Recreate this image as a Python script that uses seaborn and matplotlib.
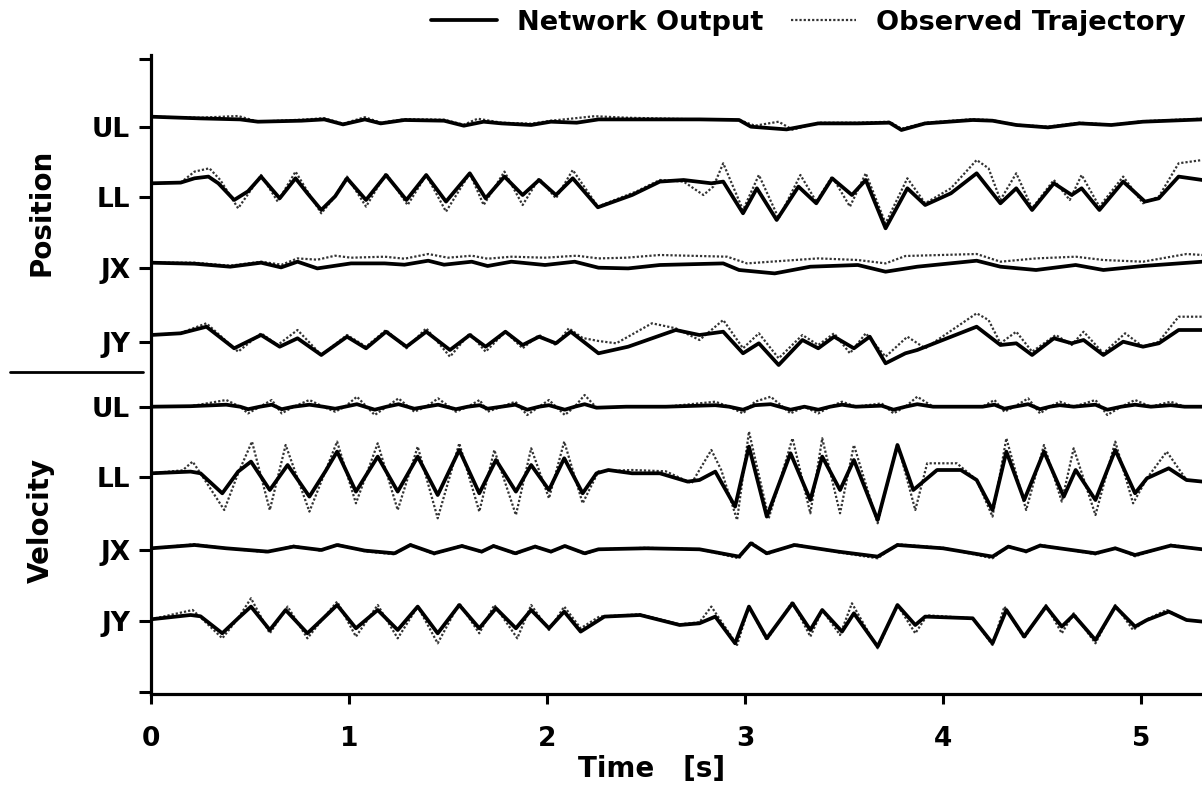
import matplotlib
matplotlib.use("Agg")
import matplotlib.pyplot as plt
import seaborn as sns
import pandas as pd
from matplotlib.lines import Line2D

# ---------------- data (time [s], deflection) ----------------
UL_pos_net = [(0,0),(0.25,-1.7),(0.45,-2.7),(0.54,-5),(0.76,-4),(0.875,-2.7),(0.97,-7.7),(1.08,-2.7),(1.16,-6.7),
              (1.28,-3.3),(1.48,-4),(1.58,-9),(1.68,-5),(1.77,-6.7),(1.92,-8.3),(2.02,-5),(2.15,-6),(2.26,-2.7),
              (2.37,-2.7),(2.77,-2.7),(2.97,-3.3),(3.03,-10),(3.21,-12.7),(3.37,-6.7),(3.57,-6.7),(3.73,-6),
              (3.79,-13.3),(3.91,-6.7),(4.15,-3.3),(4.25,-4),(4.37,-8.3),(4.53,-10.7),(4.69,-6.7),(4.85,-8.3),
              (5.01,-5),(5.31,-2.7)]
UL_pos_obs = [(0,0),(0.25,-1),(0.44,0.7),(0.54,-5),(0.76,-3),(0.875,-1.5),(0.97,-7),(1.08,-0.5),(1.16,-6),
              (1.28,-2.5),(1.48,-3),(1.58,-8),(1.65,-2),(1.77,-6),(1.92,-7),(2.02,-4),(2.12,-2),(2.24,0.5),
              (2.4,-1),(2.77,-2.7),(2.97,-3.3),(3.05,-9),(3.17,-5),(3.24,-13),(3.37,-6),(3.57,-6),(3.73,-5),
              (3.79,-12),(3.91,-6),(4.15,-2.5),(4.25,-3.5),(4.37,-8),(4.53,-10),(4.69,-6),(4.85,-8),(5.01,-4.5),(5.31,-2)]

LL_pos_net = [(0,0),(0.15,0.7),(0.22,5),(0.29,6.7),(0.34,0),(0.42,-16.7),(0.49,-8),(0.556,6.7),(0.65,-15),(0.73,5),
              (0.79,-10),(0.86,-26.7),(0.93,-13),(0.99,5),(1.086,-16.7),(1.187,8.3),(1.29,-16.7),(1.39,8.3),
              (1.49,-18.3),(1.61,10),(1.69,-15),(1.785,6.7),(1.877,-11.7),(1.96,3.3),(2.045,-11.7),(2.13,5),
              (2.257,-24),(2.43,-11.7),(2.57,1.7),(2.69,3.3),(2.83,0),(2.89,1.7),(2.99,-30),(3.06,-5),(3.16,-36.7),
              (3.27,-3.3),(3.36,-20),(3.44,5),(3.54,-11.7),(3.61,3.3),(3.71,-45),(3.82,-5),(3.91,-21.7),(4.04,-10),
              (4.17,10),(4.29,-20),(4.37,-5),(4.45,-26.7),(4.56,0),(4.65,-11.7),(4.70,-5),(4.79,-26.7),(4.91,1.7),
              (5.02,-18.3),(5.09,-15),(5.19,6.7),(5.31,3.3)]
LL_pos_obs = [(0,0),(0.15,0.7),(0.22,11.7),(0.295,15),(0.35,3.3),(0.44,-25),(0.50,-8),(0.556,8.3),(0.64,-18.3),
              (0.73,11.7),(0.79,-8),(0.86,-30),(0.93,-13),(0.99,6.7),(1.086,-23.3),(1.187,10),(1.296,-21.7),
              (1.39,8.3),(1.49,-28.3),(1.61,10),(1.68,-21.7),(1.785,11.7),(1.877,-21.7),(1.96,5),(2.045,-15),
              (2.13,13.3),(2.257,-23.3),(2.45,-8.3),(2.57,3.3),(2.69,1.7),(2.79,-11.7),(2.84,-3.3),(2.89,20),
              (2.99,-26.7),(3.07,8.3),(3.17,-35),(3.28,8.3),(3.36,-18.3),(3.44,6.7),(3.53,-23.3),(3.61,10),
              (3.71,-40),(3.82,5),(3.91,-20),(4.04,-5),(4.17,23.3),(4.23,15),(4.29,-16.7),(4.37,10),(4.45,-25),
              (4.56,3.3),(4.64,-16.7),(4.70,8.3),(4.79,-23.3),(4.91,6.7),(5.01,-20),(5.09,-13.3),(5.19,20),(5.31,23.3)]

JX_pos_net = [(0,0),(0.22,-1),(0.40,-4),(0.556,0),(0.657,-4.7),(0.74,1),(0.84,-5.7),(1.01,-0.7),(1.18,-0.7),
              (1.28,-2),(1.40,2),(1.48,-2),(1.62,1),(1.70,-3.3),(1.82,1),(1.99,-2.3),(2.14,1),(2.26,-5),(2.41,-5.7),
              (2.57,-2.3),(2.89,-0.7),(2.97,-7.3),(3.15,-10.7),(3.33,-4),(3.57,-2.3),(3.71,-9),(3.87,-4),(4.17,2),
              (4.29,-4),(4.47,-7.3),(4.67,-2.3),(4.81,-7.3),(5.01,-3.3),(5.31,1)]
JX_pos_obs = [(0,0),(0.22,0),(0.40,-3),(0.556,1),(0.66,-2),(0.74,4.3),(0.84,3),(0.93,7),(1.01,5),(1.18,6),
              (1.28,4),(1.40,8.7),(1.50,5),(1.62,7),(1.70,4),(1.82,6),(1.99,5),(2.15,7),(2.26,4.3),(2.40,5),
              (2.57,7.7),(2.91,6),(3.01,-0.7),(3.13,1),(3.37,4.3),(3.57,2.7),(3.71,-0.7),(3.81,6.7),(4.17,8.7),
              (4.29,1),(4.47,4.3),(4.67,6),(4.81,2.7),(5.01,1),(5.23,8.7),(5.31,7.7)]

JY_pos_net = [(0,0),(0.15,1.7),(0.28,8.3),(0.42,-13.3),(0.556,0),(0.65,-11.7),(0.74,-3.3),(0.86,-20),(0.99,-1.7),
              (1.086,-13.3),(1.187,3.3),(1.29,-11.7),(1.39,3.3),(1.51,-15),(1.61,0),(1.69,-11.7),(1.79,3.3),
              (1.877,-10),(1.96,-1.7),(2.045,-8.3),(2.12,3.3),(2.26,-18.3),(2.41,-11.7),(2.65,5),(2.77,0),
              (2.89,3.3),(2.99,-18.3),(3.07,-8.3),(3.17,-30),(3.29,-5),(3.37,-13.3),(3.45,-1.7),(3.55,-13.3),
              (3.63,-1.7),(3.71,-28.3),(3.81,-18.3),(3.87,-15),(4.17,8.3),(4.29,-10),(4.37,-8.3),(4.45,-20),
              (4.56,-3.3),(4.65,-8.3),(4.71,-5),(4.81,-20),(4.91,-6.7),(5.01,-11.7),(5.09,-8.3),(5.19,5),(5.31,5)]
JY_pos_obs = [(0,0),(0.15,2),(0.28,11.7),(0.44,-16.7),(0.556,1.7),(0.64,-10),(0.74,5),(0.86,-20),(0.99,0),
              (1.086,-11.7),(1.187,5),(1.29,-13.3),(1.39,6.7),(1.51,-21.7),(1.61,1.7),(1.69,-16.7),(1.79,3.3),
              (1.877,-13.3),(1.96,0),(2.045,-10),(2.11,6.7),(2.18,-3),(2.26,-6),(2.35,-8.3),(2.53,11.7),(2.65,6.7),
              (2.77,-5),(2.89,15),(2.99,-13.3),(3.07,1.7),(3.17,-23.3),(3.29,0),(3.37,-10),(3.45,1.7),(3.53,-18.3),
              (3.61,1.7),(3.71,-21.7),(3.82,-1.7),(3.91,-13.3),(4.17,21.7),(4.23,15),(4.29,-8.3),(4.37,3.3),
              (4.45,-16.7),(4.57,0),(4.65,-10),(4.71,3.3),(4.81,-18.3),(4.92,1.7),(5.01,-11.7),(5.09,-6.7),
              (5.19,18.3),(5.31,18.3)]

UL_vel_net = [(0,0),(0.2,0.5),(0.38,2),(0.45,0),(0.49,-2.5),(0.55,0),(0.61,2),(0.66,-2.5),(0.72,0),(0.80,2),
              (0.87,0),(0.93,-2),(0.98,0),(1.04,2.5),(1.13,-3),(1.19,0),(1.25,2.5),(1.33,-2),(1.39,0),(1.45,2),
              (1.54,-2.5),(1.6,0),(1.66,1.5),(1.70,-2),(1.77,0),(1.84,2),(1.90,-3),(1.96,0),(2.01,1.5),(2.09,-3),
              (2.14,0),(2.19,2.5),(2.25,-1),(2.4,0),(2.6,0),(2.85,1.5),(2.92,0),(2.99,-3),(3.05,1.5),(3.13,2.5),
              (3.23,-3),(3.30,0),(3.37,-3),(3.43,0),(3.49,2),(3.56,0),(3.69,1),(3.75,-3),(3.81,0),(3.87,2.5),
              (3.95,0),(4.2,0),(4.26,2),(4.31,-2),(4.36,0),(4.43,2.5),(4.49,-2.5),(4.54,0),(4.59,1.5),(4.66,0),
              (4.77,2),(4.83,-3),(4.90,0),(4.97,2),(5.05,0),(5.15,1.5),(5.22,0),(5.31,0)]
UL_vel_obs = [(0,0),(0.2,0.5),(0.38,6.7),(0.45,0),(0.49,-6.7),(0.55,0),(0.61,6.7),(0.66,-6.7),(0.72,0),(0.80,6.7),
              (0.87,0),(0.93,-5),(0.98,0),(1.04,10),(1.13,-8.3),(1.19,0),(1.25,8.3),(1.33,-5),(1.39,0),(1.45,8.3),
              (1.54,-5),(1.6,0),(1.66,6.7),(1.70,-5),(1.77,0),(1.84,5),(1.90,-8.3),(1.96,0),(2.01,6.7),(2.09,-8.3),
              (2.14,0),(2.19,11.7),(2.25,-1),(2.4,0),(2.6,0),(2.85,5),(2.92,0),(2.99,-6.7),(3.05,5),(3.13,10),
              (3.23,-6.7),(3.30,0),(3.37,-6.7),(3.43,0),(3.49,5),(3.56,0),(3.69,3.3),(3.75,-6.7),(3.81,0),(3.87,10),
              (3.95,0),(4.2,0),(4.26,6.7),(4.31,-5),(4.36,0),(4.43,8.3),(4.49,-6.7),(4.54,0),(4.59,5),(4.66,0),
              (4.77,6.7),(4.83,-8.3),(4.90,0),(4.97,6.7),(5.05,0),(5.15,5),(5.22,0),(5.31,0)]

LL_vel_net = [(0,0),(0.20,1.7),(0.25,0),(0.36,-20),(0.44,1.7),(0.505,11.7),(0.60,-16.7),(0.69,8.3),(0.80,-23.3),
              (0.88,1.7),(0.94,21.7),(1.035,-18.3),(1.145,16.7),(1.246,-18.3),(1.347,16.7),(1.448,-21.7),
              (1.557,23.3),(1.658,-20),(1.742,13.3),(1.843,-18.3),(1.92,8.3),(2.01,-16.7),(2.087,15),(2.18,-20),
              (2.25,0),(2.31,3.3),(2.43,0),(2.57,0),(2.71,-8.3),(2.77,-6.7),(2.85,1.7),(2.95,-33.3),(3.02,26.7),
              (3.11,-43.3),(3.23,20),(3.33,-26.7),(3.39,16.7),(3.48,-16.7),(3.55,13.3),(3.67,-46.7),(3.77,28.3),
              (3.85,-16.7),(3.91,-6.7),(3.97,3.3),(4.09,3.3),(4.17,-6.7),(4.25,-36.7),(4.32,21.7),(4.41,-26.7),
              (4.51,21.7),(4.61,-23.3),(4.67,3.3),(4.77,-26.7),(4.87,23.3),(4.97,-20),(5.03,-5),(5.14,5),
              (5.23,-6.7),(5.31,-8.3)]
LL_vel_obs = [(0,0),(0.16,3),(0.21,11.7),(0.25,0),(0.37,-36.7),(0.44,0),(0.51,31.7),(0.60,-36.7),(0.68,28.3),
              (0.80,-38.3),(0.88,1.7),(0.94,31.7),(1.035,-30),(1.145,30),(1.246,-36.7),(1.347,26.7),(1.448,-45),
              (1.557,30),(1.658,-38.3),(1.734,23.3),(1.843,-41.7),(1.92,25),(2.01,-25),(2.087,31.7),(2.18,-30),
              (2.26,2),(2.43,3.3),(2.60,2),(2.73,-10),(2.83,23.3),(2.88,3.3),(2.96,-46.7),(3.02,41.7),(3.12,-45),
              (3.24,35),(3.33,-40),(3.39,35),(3.48,-40),(3.55,28.3),(3.67,-50),(3.77,30),(3.86,-36.7),(3.92,10),
              (4.07,10),(4.17,-6.7),(4.25,-43.3),(4.32,35),(4.42,-36.7),(4.51,28.3),(4.60,-28.3),(4.66,25),
              (4.77,-41.7),(4.87,31.7),(4.96,-30),(5.03,-5),(5.13,21.7),(5.23,-6.7),(5.31,-8.3)]

JX_vel_net = [(0,0),(0.22,3.3),(0.38,0),(0.59,-3.3),(0.72,1.7),(0.86,-1.7),(0.94,3.3),(1.08,-2.3),(1.23,-5),
              (1.31,3.3),(1.43,-5),(1.57,2.3),(1.67,-3.3),(1.73,2.3),(1.84,-5),(1.94,1.7),(2.02,-3.3),(2.09,2.3),
              (2.19,-5),(2.26,-1),(2.50,0),(2.77,-1),(2.97,-8.3),(3.03,5),(3.11,-5),(3.25,3.3),(3.47,-3.3),
              (3.67,-8.3),(3.77,3.3),(4.0,0),(4.25,-8.3),(4.33,1.7),(4.42,-3),(4.49,2.7),(4.77,-5),(4.87,0),
              (4.97,-6.7),(5.15,2.7),(5.31,-1)]
JX_vel_obs = [(0,0),(0.22,4),(0.38,0),(0.59,-4),(0.72,2.5),(0.86,-2.5),(0.94,4),(1.08,-3),(1.23,-6),
              (1.31,4),(1.43,-6),(1.57,3),(1.67,-4),(1.73,3),(1.84,-6),(1.94,2.5),(2.02,-4),(2.09,3),
              (2.19,-6),(2.26,-1),(2.50,0.5),(2.77,-1),(2.97,-10),(3.03,6.5),(3.11,-6),(3.25,4),(3.47,-4),
              (3.67,-10),(3.77,4),(4.0,0.5),(4.25,-10),(4.33,2.5),(4.42,-4),(4.49,3.5),(4.77,-6),(4.87,0.5),
              (4.97,-8),(5.15,3.5),(5.31,-1)]

JY_vel_net = [(0,0),(0.20,4.3),(0.25,3),(0.36,-14),(0.44,1),(0.505,12.7),(0.60,-10.7),(0.68,9.3),(0.79,-14),
              (0.87,1),(0.94,14.3),(1.035,-9),(1.145,9.3),(1.246,-10.7),(1.347,12.7),(1.448,-14),(1.557,14.3),
              (1.658,-9),(1.742,11),(1.843,-9),(1.92,9.3),(2.01,-9),(2.087,7.7),(2.17,-12.3),(2.29,2.7),
              (2.47,4.3),(2.67,-5.7),(2.77,-4),(2.85,2.7),(2.95,-24),(3.02,12.7),(3.11,-19),(3.24,16),(3.33,-10.7),
              (3.39,9.3),(3.49,-12.3),(3.55,6),(3.67,-27.3),(3.77,14.3),(3.86,-5.7),(3.91,2.7),(4.15,1),
              (4.25,-24),(4.32,9.3),(4.41,-17.3),(4.52,12.7),(4.60,-7.3),(4.66,4.3),(4.77,-20.7),(4.87,12.7),
              (4.97,-7.3),(5.03,-0.7),(5.14,7.7),(5.23,-0.7),(5.31,-2.3)]
JY_vel_obs = [(0,0),(0.21,9.3),(0.25,2),(0.36,-19),(0.44,1),(0.505,21),(0.60,-14),(0.69,12.7),(0.79,-19),
              (0.87,1),(0.94,17.7),(1.035,-17.3),(1.145,14.3),(1.246,-19),(1.347,12.7),(1.448,-24),(1.557,16),
              (1.658,-14),(1.734,14.3),(1.85,-19),(1.92,14.3),(2.01,-10.7),(2.087,12.7),(2.17,-9),(2.264,2.7),
              (2.47,5),(2.67,-5),(2.77,-3),(2.83,12.7),(2.96,-25.7),(3.02,12.7),(3.11,-20.7),(3.24,17.7),
              (3.33,-17.3),(3.39,9.3),(3.48,-15.7),(3.54,16),(3.67,-29),(3.77,14.3),(3.86,-14),(3.92,4),(4.15,1),
              (4.25,-25.7),(4.31,12.7),(4.41,-19),(4.52,14.3),(4.60,-14),(4.66,6),(4.77,-24),(4.87,14.3),
              (4.96,-10.7),(5.03,0),(5.13,9.3),(5.23,-0.7),(5.31,-2.3)]

channel_labels = ["UL", "LL", "JX", "JY", "UL", "LL", "JX", "JY"]
x_ticks = [0, 1, 2, 3, 4, 5]
legend_labels = ["Network Output", "Observed Trajectory"]

# ---------------- layout (vertical offsets of each trace) ----------------
trace_offsets = [577.3, 510.7, 431.3, 359.0, 287.3, 220.7, 145.7, 74.7]
tick_positions = [635, 567, 497, 426, 352, 287, 217, 144, 73, 2]
pairs = [(UL_pos_net, UL_pos_obs), (LL_pos_net, LL_pos_obs), (JX_pos_net, JX_pos_obs), (JY_pos_net, JY_pos_obs),
         (UL_vel_net, UL_vel_obs), (LL_vel_net, LL_vel_obs), (JX_vel_net, JX_vel_obs), (JY_vel_net, JY_vel_obs)]

sns.set_style("ticks")
plt.rcParams["font.family"] = ["DejaVu Sans"]
plt.rcParams["font.weight"] = "bold"
plt.rcParams["text.color"] = "black"
plt.rcParams["axes.labelcolor"] = "black"
plt.rcParams["xtick.color"] = "black"
plt.rcParams["ytick.color"] = "black"

W, H = 1202, 788
fig = plt.figure(figsize=(W / 100, H / 100), dpi=100)
ax = fig.add_axes([151 / W, 1 - 694 / H, 1 - 151 / W, (694 - 55) / H])

obs_style = (0, (1, 0.9))
for (net, obs), off in zip(pairs, trace_offsets):
    dfo = pd.DataFrame(obs, columns=["t", "v"])
    dfo["y"] = dfo["v"] + off
    sns.lineplot(data=dfo, x="t", y="y", estimator=None, sort=False, ax=ax, color="#333333",
                 linewidth=1.6, linestyle=obs_style, legend=False, zorder=2)
    dfn = pd.DataFrame(net, columns=["t", "v"])
    dfn["y"] = dfn["v"] + off
    sns.lineplot(data=dfn, x="t", y="y", estimator=None, sort=False, ax=ax, color="black",
                 linewidth=2.7, legend=False, zorder=3, solid_joinstyle="round")

ax.set_xlim(0, (W - 151) / 198)
ax.set_ylim(0, 639)
ax.set_xticks(x_ticks)
ax.set_xticklabels([str(v) for v in x_ticks], fontsize=19, fontweight="bold")
ax.set_yticks(tick_positions)
ax.set_yticklabels([""] + channel_labels + [""], fontsize=19, fontweight="bold")
ax.tick_params(axis="y", length=9, width=2.2, pad=6, color="black", labelcolor="black")
ax.tick_params(axis="x", length=7, width=2.2, pad=16, color="black", labelcolor="black")
for s in ["top", "right"]:
    ax.spines[s].set_visible(False)
for s in ["left", "bottom"]:
    ax.spines[s].set_linewidth(2.3)
    ax.spines[s].set_color("black")

ax.set_xlabel("Time   [s]", fontsize=20, fontweight="bold", color="black")
ax.xaxis.set_label_coords((652 - 151) / (W - 151), -(755 - 694) / 639)
ax.set_ylabel("")
ax.xaxis.label.set_va("top")

fig.text(41 / W, 1 - 212 / H, "Position", rotation=90, ha="center", va="center", fontsize=20,
         fontweight="bold", color="black")
fig.text(41 / W, 1 - 520 / H, "Velocity", rotation=90, ha="center", va="center", fontsize=20,
         fontweight="bold", color="black")

fig.add_artist(Line2D([10 / W, 143 / W], [1 - 372 / H, 1 - 372 / H], transform=fig.transFigure,
                      color="black", linewidth=2.0))

handles = [Line2D([], [], color="black", linewidth=2.7),
           Line2D([], [], color="#333333", linewidth=1.6, linestyle=obs_style)]
leg = fig.legend(handles, legend_labels, loc="center right", bbox_to_anchor=(1186 / W, 1 - 23 / H),
                 ncol=2, frameon=False, prop={"weight": "bold", "size": 19.6},
                 handlelength=2.4, handletextpad=0.75, columnspacing=1.0, borderpad=0, borderaxespad=0)
for txt in leg.get_texts():
    txt.set_color("black")

fig.savefig("out.png", dpi=100)
